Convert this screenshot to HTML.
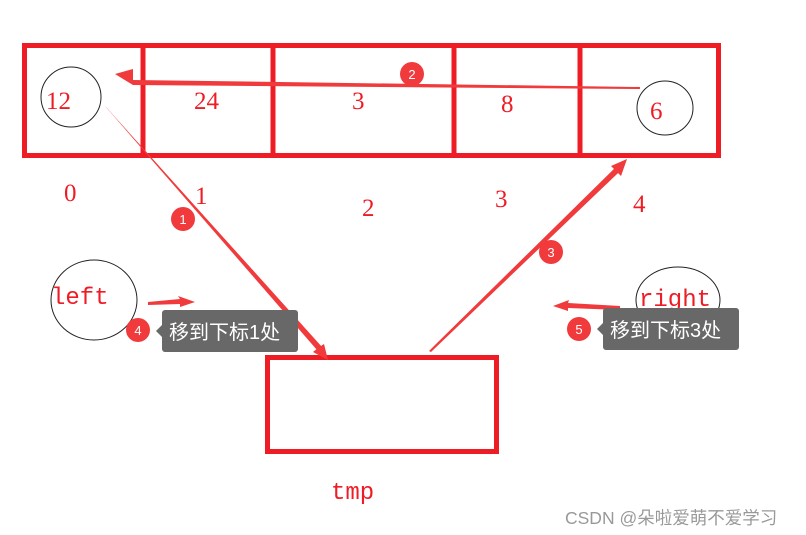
<!DOCTYPE html>
<html><head><meta charset="utf-8"><style>
html,body{margin:0;padding:0;background:#fff;width:806px;height:535px;overflow:hidden}
svg{display:block}
.s{font-family:"Liberation Serif","Noto Serif CJK SC",serif;fill:#ee1c25;font-size:25px}
.m{font-family:"Liberation Mono",monospace;fill:#ee1c25;font-size:24px}
.b{font-family:"Liberation Sans",sans-serif;fill:#fff;font-size:13px;text-anchor:middle}
.t{font-family:"Liberation Sans","Noto Sans CJK SC",sans-serif;fill:#fff;font-size:20px}
</style></head><body>
<svg width="806" height="535" viewBox="0 0 806 535" xmlns="http://www.w3.org/2000/svg">
<g fill="none" stroke="#ee1c25" stroke-width="5">
<rect x="24.5" y="45.5" width="694" height="110"/>
<line x1="143" y1="45" x2="143" y2="156"/>
<line x1="273" y1="45" x2="273" y2="156"/>
<line x1="454" y1="45" x2="454" y2="156"/>
<line x1="580" y1="45" x2="580" y2="156"/>
<rect x="267.5" y="357.5" width="229" height="94"/>
</g>
<g fill="none" stroke="#222" stroke-width="1">
<circle cx="71" cy="97" r="30"/>
<ellipse cx="665" cy="108" rx="28" ry="27"/>
<ellipse cx="94" cy="300" rx="43" ry="40"/>
<ellipse cx="678" cy="300" rx="42" ry="33"/>
</g>
<text class="s" x="46" y="109">12</text>
<text class="s" x="194" y="109">24</text>
<text class="s" x="352" y="109">3</text>
<text class="s" x="501" y="112">8</text>
<text class="s" x="650" y="119">6</text>
<text class="s" x="64" y="201">0</text>
<text class="s" x="195" y="204">1</text>
<text class="s" x="362" y="216">2</text>
<text class="s" x="495" y="207">3</text>
<text class="s" x="633" y="212">4</text>
<text class="m" x="51" y="304">left</text>
<text class="m" x="639" y="306">right</text>
<text class="m" x="331" y="499">tmp</text>
<polygon points="640,87 133,80 133,69 115,74 133,85 640,89" fill="#f03a3c"/>
<polygon points="105,106 107,108 318,348 313,352 328,360 324,344 321,346" fill="#f03a3c"/>
<polygon points="105,106 321,346 317,350" fill="#f03a3c"/>
<polygon points="429,351 431,352 618,173 621,176 627,159 611,166 614,169" fill="#f03a3c"/>
<polygon points="429,351 614,169 618,173" fill="#f03a3c"/>
<polygon points="148,302 180,299 178,296 195,302 180,307 180,304 148,305" fill="#f03a3c"/>
<polygon points="620,306 568,303 569,300 553,306 568,311 568,308 620,310" fill="#f03a3c"/>
<g fill="#f03a3c">
<circle cx="412" cy="74" r="12"/><circle cx="183" cy="219" r="12"/>
<circle cx="551" cy="252" r="12"/><circle cx="138" cy="330" r="12"/>
<circle cx="579" cy="329" r="12"/>
</g>
<text class="b" x="412" y="79">2</text><text class="b" x="183" y="224">1</text>
<text class="b" x="551" y="257">3</text><text class="b" x="138" y="335">4</text>
<text class="b" x="579" y="334">5</text>
<rect x="162" y="310" width="136" height="42" rx="3" fill="#686868"/>
<polygon points="162,325 156,331 162,337" fill="#686868"/>
<text class="t" x="169" y="339">移到下标1处</text>
<rect x="603" y="308" width="136" height="42" rx="3" fill="#686868"/>
<polygon points="603,323 597,329 603,335" fill="#686868"/>
<text class="t" x="610" y="337">移到下标3处</text>
<text x="565" y="524" font-family="Liberation Sans,Noto Sans CJK SC,sans-serif" font-size="17.5" fill="#999">CSDN @朵啦爱萌不爱学习</text>
</svg>
</body></html>
